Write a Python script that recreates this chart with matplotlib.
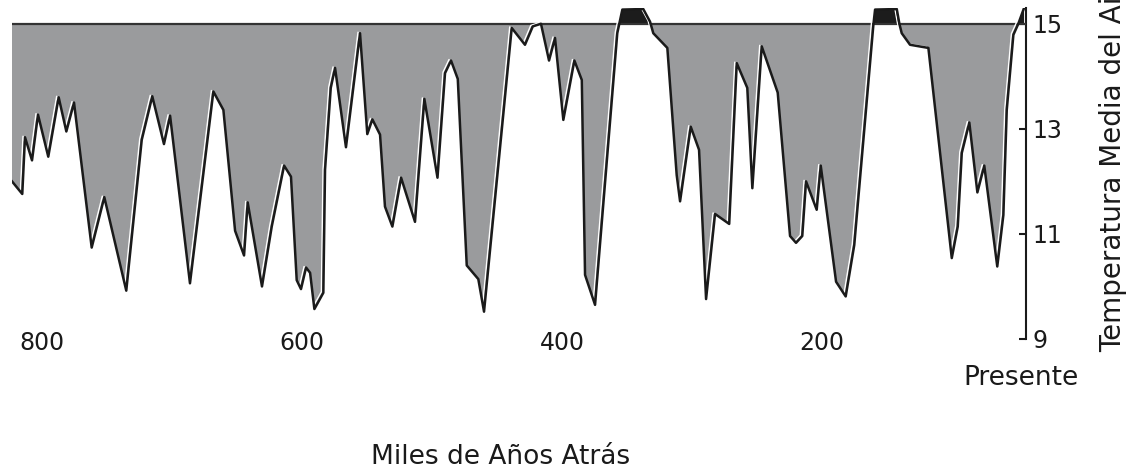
import matplotlib.pyplot as plt
import matplotlib.transforms as mtransforms
import numpy as np

# Temperatura media del aire (grados C) vs miles de anios atras
kyr = [823.1, 815.2, 813.1, 807.7, 803.1, 795.2, 787.2, 781.3, 775.4, 761.8,
       752.1, 735.2, 723.3, 715.2, 706.2, 701.5, 686.2, 668.2, 660.5, 651.5,
       644.6, 641.8, 630.8, 623.3, 613.8, 608.5, 604.1, 600.8, 596.9, 593.8,
       590.5, 583.6, 582.3, 577.9, 574.6, 566.2, 555.4, 549.8, 545.9, 540.0,
       536.2, 530.5, 523.8, 513.1, 505.9, 495.8, 490.0, 485.4, 480.2, 473.3,
       464.4, 460.0, 438.7, 428.5, 422.5, 416.2, 410.0, 405.4, 399.0, 390.5,
       384.8, 382.3, 374.6, 357.5, 353.6, 337.5, 332.3, 329.8, 319.0, 311.8,
       309.2, 301.0, 294.6, 289.2, 282.3, 271.4, 265.6, 257.5, 253.6, 246.4,
       234.1, 224.6, 220.0, 215.2, 212.3, 204.1, 201.0, 189.2, 181.8, 175.2,
       160.5, 159.2, 142.5, 140.5, 138.7, 132.3, 118.2, 100.2, 95.6, 92.5,
       86.7, 80.5, 75.2, 65.2, 60.5, 57.9, 52.8, 49.0, 44.6]
temp = [12.00, 11.76, 12.84, 12.40, 13.27, 12.47, 13.60, 12.95, 13.50, 10.74,
        11.70, 9.92, 12.79, 13.62, 12.71, 13.25, 10.06, 13.71, 13.36, 11.06,
        10.59, 11.60, 10.00, 11.14, 12.30, 12.09, 10.12, 9.95, 10.36, 10.26,
        9.57, 9.88, 12.22, 13.78, 14.16, 12.65, 14.82, 12.90, 13.18, 12.89,
        11.52, 11.14, 12.07, 11.23, 13.57, 12.07, 14.06, 14.30, 13.95, 10.40,
        10.14, 9.52, 14.92, 14.60, 14.95, 15.00, 14.30, 14.73, 13.17, 14.30,
        13.93, 10.22, 9.65, 14.82, 15.27, 15.28, 15.04, 14.82, 14.54, 12.12,
        11.62, 13.04, 12.60, 9.76, 11.38, 11.19, 14.25, 13.78, 11.87, 14.57,
        13.69, 10.96, 10.83, 10.96, 12.00, 11.46, 12.30, 10.09, 9.81, 10.79,
        14.98, 15.27, 15.28, 15.00, 14.82, 14.60, 14.54, 10.54, 11.14, 12.54,
        13.12, 11.79, 12.30, 10.38, 11.36, 13.36, 14.79, 15.00, 15.30]

x_ticks = [800, 600, 400, 200]
y_ticks = [9, 11, 13, 15]
media = 15

kyr = np.array(kyr)
temp = np.array(temp)

fig = plt.figure(figsize=(11.37, 4.72), dpi=100)
ax = fig.add_axes([12 / 1137, 133 / 472, 1014 / 1137, 331 / 472])

# relleno gris bajo la linea de 15 y negro por encima
ax.fill_between(kyr, temp, media, where=temp <= media, interpolate=True,
                color="#9a9b9d", linewidth=0)
ax.fill_between(kyr, media, temp, where=temp >= media, interpolate=True,
                color="#1c1c1c", linewidth=0)
ax.axhline(media, color="#333333", linewidth=1.6, zorder=3)

# brillo blanco desplazado a la izquierda de la curva
shift = mtransforms.offset_copy(ax.transData, fig=fig, x=-2, y=1, units="dots")
ax.plot(kyr, temp, color="white", linewidth=1.0, transform=shift, zorder=4)
ax.plot(kyr, temp, color="#1a1a1a", linewidth=1.8, zorder=5)

ax.set_xlim(823.1, 43.1)
ax.set_ylim(9, 15.3)

for side in ["left", "top", "bottom"]:
    ax.spines[side].set_visible(False)
ax.spines["right"].set_linewidth(1.5)
ax.spines["right"].set_color("#1a1a1a")

ax.yaxis.tick_right()
ax.set_yticks(y_ticks)
ax.tick_params(axis="y", direction="in", length=5, width=1.5, pad=4.5,
               labelsize=17, colors="#1a1a1a")
ax.set_xticks(x_ticks)
ax.tick_params(axis="x", length=0, pad=-6, labelsize=17, colors="#1a1a1a")

fig.text(1021 / 1137, 1 - 378 / 472, "Presente", ha="center", va="center",
         fontsize=19, color="#1a1a1a")
fig.text(501 / 1137, 1 - 457 / 472, "Miles de Años Atrás", ha="center",
         va="center", fontsize=19, color="#1a1a1a")
# en el original el titulo del eje queda cortado por el borde superior
fig.text(1113 / 1137, 1 - 352 / 472, "Temperatura Media del Aire (°C)",
         rotation=90, ha="center", va="bottom", fontsize=20, color="#1a1a1a")

fig.savefig("out.png", dpi=100)
